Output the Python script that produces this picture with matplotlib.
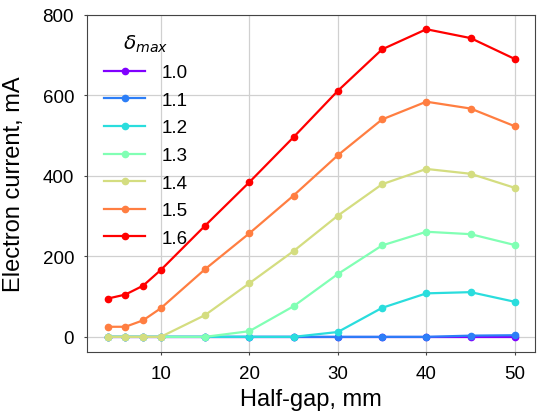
import matplotlib
matplotlib.use("Agg")
import matplotlib.pyplot as plt
import numpy as np

plt.rcParams['font.family'] = ['Liberation Sans', 'DejaVu Sans']

# Data
half_gap = [4, 6, 8, 10, 15, 20, 25, 30, 35, 40, 45, 50]
delta_max = ["1.0", "1.1", "1.2", "1.3", "1.4", "1.5", "1.6"]
i_10 = [0, 0, 0, 0, 0, 0, 0, 0, 0, 0, 0, 0]
i_11 = [0, 0, 0, 0, 0, 0, 0, 0, 0, 0, 3, 4]
i_12 = [0, 0, 0, 0, 0, 0, 0, 12, 72, 108, 111, 87]
i_13 = [0, 0, 0, 0, 0, 14, 76, 156, 227, 261, 255, 228]
i_14 = [0, 0, 0, 0, 54, 133, 213, 301, 379, 417, 405, 370]
i_15 = [25, 25, 41, 71, 168, 257, 351, 451, 540, 584, 567, 523]
i_16 = [95, 105, 127, 166, 276, 384, 496, 611, 714, 764, 742, 690]
currents = [i_10, i_11, i_12, i_13, i_14, i_15, i_16]

colors = plt.cm.rainbow(np.linspace(0, 1, len(delta_max)))

fig = plt.figure(figsize=(5.39, 4.14), dpi=100)
ax = fig.add_axes([0.162, 0.147, 0.831, 0.815])

for lab, y, c in zip(delta_max, currents, colors):
    ax.plot(half_gap, y, "-o", color=c, lw=1.6, ms=4.5, label=lab)

ax.set_xlim(1.7, 52.3)
ax.set_ylim(-38, 800)
ax.set_xticks([10, 20, 30, 40, 50])
ax.set_yticks([0, 200, 400, 600, 800])
ax.grid(True, color="#d0d0d0", lw=0.9)
ax.set_axisbelow(True)
for s in ax.spines.values():
    s.set_color("#444444")
ax.tick_params(labelsize=13.5, length=2.5, color="#444444", pad=7)
ax.set_xlabel("Half-gap, mm", fontsize=17)
ax.set_ylabel("Electron current, mA", fontsize=17)
ax.yaxis.set_label_coords(-0.139, 0.5)

leg = ax.legend(title=r"$\delta_{max}$", frameon=False, fontsize=13.5,
                title_fontsize=14.5, loc="upper left", handlelength=2.2,
                handletextpad=0.85, labelspacing=0.56,
                bbox_to_anchor=(0.0, 0.998))

fig.savefig("out.png", dpi=100)
